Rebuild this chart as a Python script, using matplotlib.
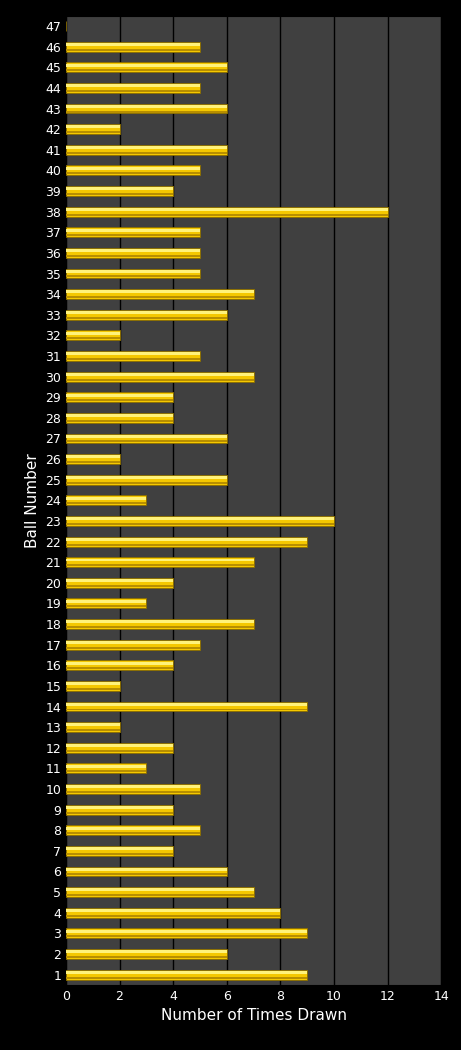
import numpy as np
import matplotlib.pyplot as plt

balls = list(range(1, 48))
counts = [9, 6, 9, 8, 7, 6, 4, 5, 4, 5, 3, 4, 2, 9, 2, 4, 5, 7, 3, 4,
          7, 9, 10, 3, 6, 2, 6, 4, 4, 7, 5, 2, 6, 7, 5, 5, 5, 12, 4, 5,
          6, 2, 6, 5, 6, 5, 0]
xticks = list(range(0, 15, 2))

fig = plt.figure(figsize=(4.61, 10.5), dpi=100, facecolor='black')
ax = fig.add_axes([0.143, 0.062, 0.814, 0.923])
ax.set_facecolor('#404040')

h = 0.48
# base bar plus light top / dark bottom strips for the bevelled look
ax.barh(balls, counts, height=h, color='#f5c800', edgecolor='#8a6d00', linewidth=0.6, zorder=3)
ax.barh(np.array(balls) + h * 0.22, counts, height=h * 0.3, color='#fff27a', linewidth=0, zorder=4)
ax.barh(np.array(balls) - h * 0.3, counts, height=h * 0.2, color='#b88f00', linewidth=0, zorder=4)

ax.set_xlim(0, 14)
ax.set_ylim(0.5, 47.5)
ax.set_xticks(xticks)
ax.set_yticks(balls)
ax.xaxis.grid(True, color='black', linewidth=1)
ax.set_axisbelow(True)
ax.tick_params(colors='white', labelsize=9, length=0)
for s in ax.spines.values():
    s.set_color('black')
ax.set_xlabel('Number of Times Drawn', color='white', fontsize=11)
ax.set_ylabel('Ball Number', color='white', fontsize=11)

fig.savefig('out.png', facecolor='black')
